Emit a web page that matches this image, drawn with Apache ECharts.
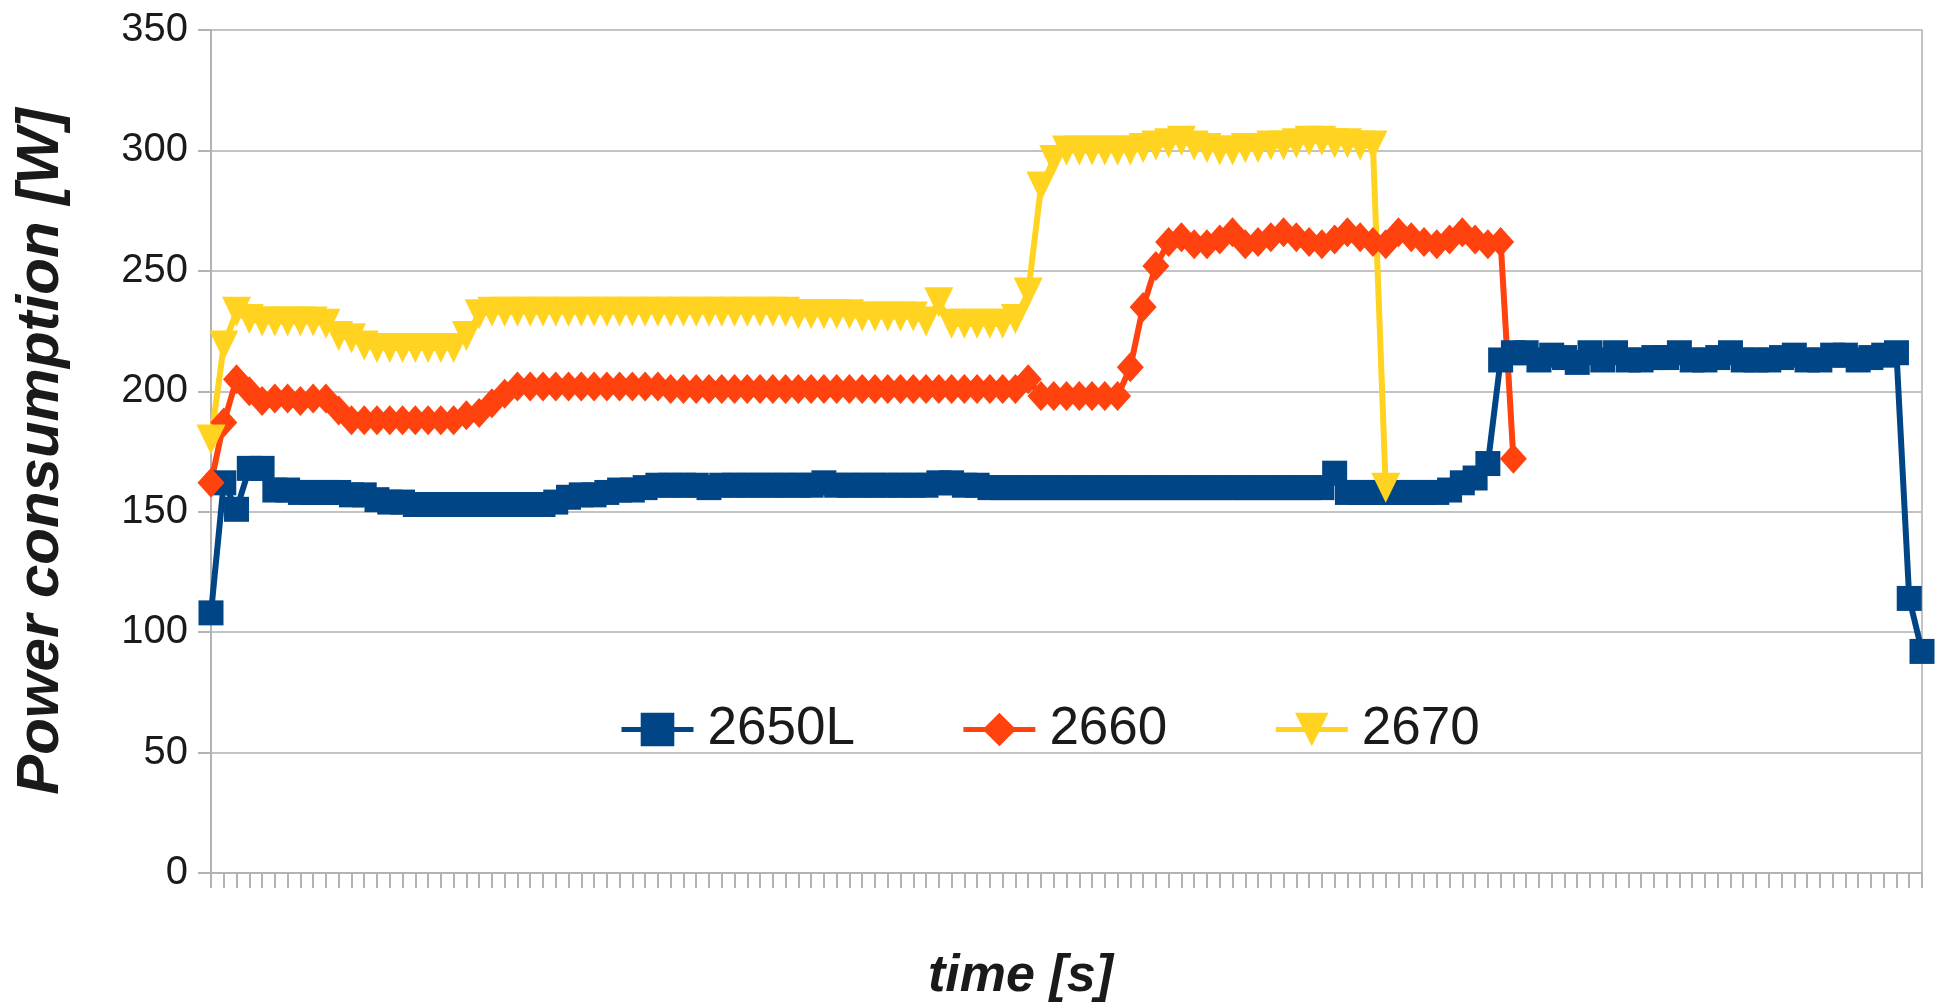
<!DOCTYPE html>
<html><head><meta charset="utf-8">
<script src="https://cdn.jsdelivr.net/npm/echarts@6/dist/echarts.min.js"></script>
<style>html,body{margin:0;padding:0;background:#fff}#c{width:1935px;height:1004px}</style>
</head><body><div id="c"></div>
<script>
const seriesNames = ['2650L', '2660', '2670'];
const seriesColors = ['#004586', '#ff420e', '#ffd320'];
const yTickValues = [0, 50, 100, 150, 200, 250, 300, 350];

const s2650L = [
  108,162,151,168,168,159,159,158,158,158,
  158,157,157,155,154,154,153,153,153,153,
  153,153,153,153,153,153,153,154,156,157,
  157,158,159,159,160,161,161,161,161,160,
  161,161,161,161,161,161,161,161,162,161,
  161,161,161,161,161,161,161,162,162,161,
  161,160,160,160,160,160,160,160,160,160,
  160,160,160,160,160,160,160,160,160,160,
  160,160,160,160,160,160,160,160,166,158,
  158,158,158,158,158,158,158,159,162,164,
  170,213,216,216,213,215,214,212,216,213,
  216,213,213,214,214,216,213,213,214,216,
  213,213,213,214,215,213,213,215,215,213,
  214,215,216,114,92
];
const s2660 = [
  162,187,205,200,196,197,197,196,197,197,
  192,188,188,188,188,188,188,188,188,188,
  190,191,195,199,202,202,202,202,202,202,
  202,202,202,202,202,202,201,201,201,201,
  201,201,201,201,201,201,201,201,201,201,
  201,201,201,201,201,201,201,201,201,201,
  201,201,201,201,205,198,198,198,198,198,
  198,198,210,235,252,262,264,261,261,263,
  266,261,262,264,266,264,262,261,263,266,
  264,262,261,266,264,262,261,263,266,263,
  261,262,172
];
const s2670 = [
  180,219,233,230,229,229,229,229,229,228,
  223,222,219,218,218,218,218,218,218,218,
  223,232,233,233,233,233,233,233,233,233,
  233,233,233,233,233,233,233,233,233,233,
  233,233,233,233,233,233,232,232,232,232,
  232,231,231,231,231,231,229,237,228,228,
  228,228,228,230,241,285,296,300,300,300,
  300,300,300,301,302,303,304,302,301,300,
  300,301,301,302,302,303,304,304,303,303,
  302,302,160
];
const timeSteps = s2650L.map((_, i) => String(i + 1));

const symbols = ['rect', 'diamond', 'triangle'];
const symbolSizes = [[25, 25], [27, 30], [29, 30]];
const symbolRotates = [0, 0, 180];
const dataSets = [s2650L, s2660, s2670];

const FONT = 'Liberation Sans';
const chart = echarts.init(document.getElementById('c'), null, {renderer: 'canvas'});
chart.setOption({
  animation: false,
  backgroundColor: '#ffffff',
  grid: {left: 211, right: 13, top: 30, bottom: 131, containLabel: false, outerBoundsMode: 'none'},
  legend: {
    data: seriesNames,
    left: 614, top: 698,
    itemWidth: 72, itemHeight: 42, itemGap: 106,
    lineStyle: {width: 5},
    textStyle: {fontSize: 53, fontFamily: FONT, color: '#1a1a1a', padding: [0, 0, 0, 9]}
  },
  xAxis: {
    type: 'category',
    data: timeSteps,
    boundaryGap: false,
    axisLine: {show: true, lineStyle: {color: '#b3b3b3', width: 2}},
    axisTick: {show: true, interval: 0, length: 15, lineStyle: {color: '#b3b3b3', width: 2}},
    axisLabel: {show: false},
    splitLine: {show: false},
    name: 'time [s]',
    nameLocation: 'middle',
    nameGap: 78,
    nameTextStyle: {fontSize: 52, fontWeight: 'bold', fontStyle: 'italic', fontFamily: FONT, color: '#1a1a1a', padding: [0, 92, 0, 0]}
  },
  yAxis: [{
    type: 'value',
    min: yTickValues[0], max: yTickValues[yTickValues.length - 1], interval: yTickValues[1] - yTickValues[0],
    axisLine: {show: true, lineStyle: {color: '#b3b3b3', width: 2}},
    axisTick: {show: true, length: 13, lineStyle: {color: '#b3b3b3', width: 2}},
    axisLabel: {fontSize: 40, fontFamily: FONT, color: '#1a1a1a', margin: 23},
    splitLine: {show: true, lineStyle: {color: '#c3c3c3', width: 2}},
    name: 'Power consumption [W]',
    nameLocation: 'middle',
    nameRotate: 90,
    nameGap: 140,
    nameTextStyle: {fontSize: 60, fontWeight: 'bold', fontStyle: 'italic', fontFamily: FONT, color: '#1a1a1a'}
  }, {
    type: 'value', position: 'right',
    min: yTickValues[0], max: yTickValues[yTickValues.length - 1], interval: yTickValues[1] - yTickValues[0],
    axisLine: {show: true, lineStyle: {color: '#c3c3c3', width: 2}},
    axisTick: {show: false}, axisLabel: {show: false}, splitLine: {show: false}
  }],
  series: seriesNames.map((name, k) => ({
    name: name,
    type: 'line',
    data: dataSets[k],
    yAxisIndex: 0,
    symbol: symbols[k],
    symbolSize: symbolSizes[k],
    symbolRotate: symbolRotates[k],
    showAllSymbol: true,
    lineStyle: {width: 6, color: seriesColors[k]},
    itemStyle: {color: seriesColors[k]},
    emphasis: {disabled: true}
  }))
});
</script></body></html>
